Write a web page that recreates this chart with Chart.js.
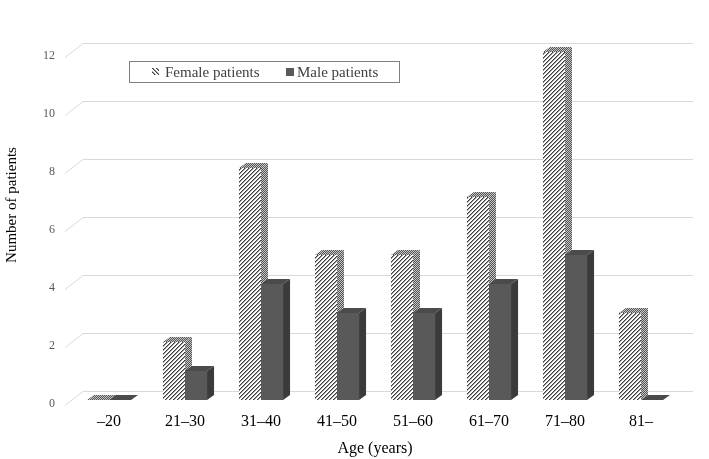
<!DOCTYPE html>
<html>
<head>
<meta charset="utf-8">
<script src="https://cdn.jsdelivr.net/npm/chart.js@4.4.0/dist/chart.umd.min.js"></script>
<style>
  html, body { margin: 0; padding: 0; background: #fff; }
  #wrap { width: 709px; height: 459px; position: relative; }
</style>
</head>
<body>
<div id="wrap"><canvas id="chart"></canvas></div>
<script>
const categories = ['–20', '21–30', '31–40', '41–50', '51–60', '61–70', '71–80', '81–'];
const femalePatients = [0, 2, 8, 5, 5, 7, 12, 3];
const malePatients = [0, 1, 4, 3, 3, 4, 5, 0];
const seriesNames = ['Female patients', 'Male patients'];
const yMax = 12;
const yStep = 2;

const FONT = '"Liberation Serif", "Times New Roman", serif';
const depthX = 7, depthY = 5;

// small pixel patterns for the hatched bars
function makePattern(size, pick) {
  const c = document.createElement('canvas');
  c.width = size; c.height = size;
  const g = c.getContext('2d');
  for (let y = 0; y < size; y++) {
    for (let x = 0; x < size; x++) {
      g.fillStyle = pick(x, y);
      g.fillRect(x, y, 1, 1);
    }
  }
  return g.createPattern(c, 'repeat');
}

const stripe = ['#3c3c3c', '#9a9a9a', '#ffffff', '#ffffff'];
const hatch = makePattern(4, (x, y) => stripe[(x + y) % 4]);
const hatchIcon = makePattern(4, (x, y) => stripe[(x - y + 8) % 4]);
const checker = makePattern(2, (x, y) => ((x + y) % 2 ? '#555555' : '#c4c4c4'));

const faces = [
  { front: hatch, side: checker, top: checker },
  { front: '#595959', side: '#3b3b3b', top: '#4b4b4b' }
];

// back-wall gridlines, bent at the left like the 3d floor edge
const wallGrid = {
  id: 'wallGrid',
  beforeDatasetsDraw(chart) {
    const { ctx, chartArea } = chart;
    const ys = chart.scales.y;
    ctx.save();
    ctx.strokeStyle = '#d9d9d9';
    ctx.lineWidth = 1;
    ys.ticks.forEach(t => {
      const py = Math.round(ys.getPixelForValue(t.value));
      ctx.beginPath();
      ctx.moveTo(chartArea.left - 6, py + 5.5);
      ctx.lineTo(chartArea.left + 12, py - 8.5);
      ctx.lineTo(chartArea.right + 14, py - 8.5);
      ctx.stroke();
    });
    ctx.restore();
  }
};

// fronts, sides and tops of the columns, female first so male covers its side
const bars3d = {
  id: 'bars3d',
  afterDatasetsDraw(chart) {
    const ctx = chart.ctx;
    ctx.save();
    chart.data.datasets.forEach((ds, i) => {
      const f = faces[i];
      chart.getDatasetMeta(i).data.forEach(bar => {
        const { x, y, base, width } = bar.getProps(['x', 'y', 'base', 'width'], true);
        const l = x - width / 2, r = x + width / 2;
        ctx.fillStyle = f.front;
        ctx.fillRect(l, y, width, base - y);
        ctx.fillStyle = f.side;
        ctx.beginPath();
        ctx.moveTo(r, y);
        ctx.lineTo(r + depthX, y - depthY);
        ctx.lineTo(r + depthX, base - depthY);
        ctx.lineTo(r, base);
        ctx.closePath();
        ctx.fill();
        ctx.fillStyle = f.top;
        ctx.beginPath();
        ctx.moveTo(l, y);
        ctx.lineTo(l + depthX, y - depthY);
        ctx.lineTo(r + depthX, y - depthY);
        ctx.lineTo(r, y);
        ctx.closePath();
        ctx.fill();
      });
    });
    ctx.restore();
  }
};

// boxed legend inside the plot, top left, and the y axis title
const boxLegend = {
  id: 'boxLegend',
  afterDraw(chart) {
    const ctx = chart.ctx;
    ctx.save();
    ctx.strokeStyle = '#7f7f7f';
    ctx.lineWidth = 1;
    ctx.strokeRect(129.5, 61.5, 270, 21);
    ctx.font = '15px ' + FONT;
    ctx.textBaseline = 'alphabetic';
    ctx.fillStyle = hatchIcon;
    ctx.fillRect(152, 68, 7, 7);
    ctx.fillStyle = '#404040';
    ctx.fillText(seriesNames[0], 165, 77);
    ctx.fillStyle = '#595959';
    ctx.fillRect(286, 68, 8, 8);
    ctx.fillStyle = '#404040';
    ctx.fillText(seriesNames[1], 297, 77);

    ctx.translate(12, 205);
    ctx.rotate(-Math.PI / 2);
    ctx.textAlign = 'center';
    ctx.textBaseline = 'middle';
    ctx.fillStyle = '#000';
    ctx.fillText('Number of patients', 0, 0);
    ctx.restore();
  }
};

new Chart(document.getElementById('chart'), {
  type: 'bar',
  data: {
    labels: categories,
    datasets: [
      { label: seriesNames[0], data: femalePatients, backgroundColor: 'rgba(0,0,0,0)' },
      { label: seriesNames[1], data: malePatients, backgroundColor: 'rgba(0,0,0,0)' }
    ]
  },
  options: {
    responsive: true,
    maintainAspectRatio: false,
    animation: false,
    layout: { padding: { top: 52, right: 30, bottom: 0, left: 0 } },
    datasets: { bar: { categoryPercentage: 0.58, barPercentage: 1 } },
    plugins: { legend: { display: false }, tooltip: { enabled: false } },
    scales: {
      x: {
        grid: { display: false, drawTicks: false },
        border: { display: false },
        ticks: { color: '#000', font: { family: FONT, size: 16 }, padding: 12 },
        title: { display: true, text: 'Age (years)', color: '#000', font: { family: FONT, size: 16 }, padding: { top: 0, bottom: 1 } },
        afterFit: s => { s.height = 59; }
      },
      y: {
        min: 0,
        max: yMax,
        grid: { display: false, drawTicks: false },
        border: { display: false },
        ticks: { stepSize: yStep, color: '#595959', font: { family: FONT, size: 12 }, padding: 16, labelOffset: 4 },
        afterFit: s => { s.width = 71; }
      }
    }
  },
  plugins: [wallGrid, bars3d, boxLegend]
});
</script>
</body>
</html>
